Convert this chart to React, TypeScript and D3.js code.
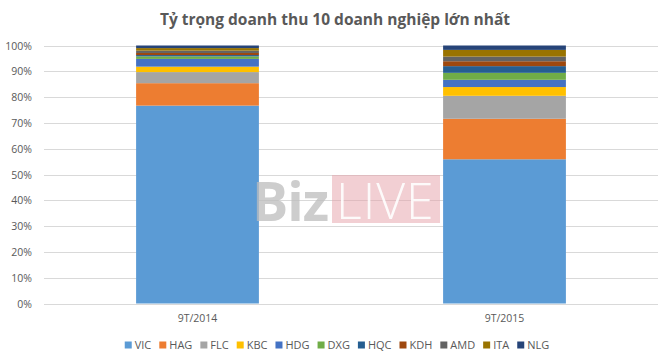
import React from "react";
import * as d3 from "d3";

const categories = ["9T/2014", "9T/2015"];
const seriesNames = ["VIC", "HAG", "FLC", "KBC", "HDG", "DXG", "HQC", "KDH", "AMD", "ITA", "NLG"];
const seriesColors = ["#5B9BD5", "#ED7D31", "#A5A5A5", "#FFC000", "#4472C4", "#70AD47", "#255E91", "#9E480E", "#636363", "#997300", "#264478"];
const values2014 = [76.7, 8.7, 4.3, 2.1, 3.0, 1.0, 0.5, 0.8, 0.9, 1.0, 1.0];
const values2015 = [55.9, 15.7, 8.9, 3.4, 2.8, 2.7, 2.6, 1.9, 1.8, 2.6, 1.7];
const yTicks = [0, 0.1, 0.2, 0.3, 0.4, 0.5, 0.6, 0.7, 0.8, 0.9, 1.0];
const title = "Tỷ trọng doanh thu 10 doanh nghiệp lớn nhất";

const W = 670, H = 363;
const FONT = "'Open Sans', 'Noto Sans', sans-serif";

function measure(text: string, font: string) {
  const c = document.createElement("canvas").getContext("2d")!;
  c.font = font;
  return c.measureText(text).width;
}

export default function App() {
  const rows = categories.map((c, i) => {
    const vals = i === 0 ? values2014 : values2015;
    const total = d3.sum(vals);
    const o: any = { cat: c };
    seriesNames.forEach((s, j) => (o[s] = vals[j] / total));
    return o;
  });
  const stack = d3.stack().keys(seriesNames)(rows);

  const x = d3.scaleBand().domain(categories).range([44, 658]).paddingInner(0.6).paddingOuter(0.3);
  const y = d3.scaleLinear().domain([0, 1]).range([303.5, 45.5]);
  const fmt = d3.format(".0%");

  const legendFont = `11px ${FONT}`;
  const items = seriesNames.map((s) => ({ s, w: 7 + 3 + measure(s, legendFont) }));
  const gap = 8;
  const totalW = d3.sum(items, (d) => d.w) + gap * (items.length - 1);
  let lx = 337 - totalW / 2;
  const legendPos = items.map((d) => {
    const p = lx;
    lx += d.w + gap;
    return p;
  });

  return (
    <svg width={W} height={H} style={{ position: "absolute", left: 0, top: 0, background: "#fff" }}>
      <rect width={W} height={H} fill="#fff" />
      <text x={335} y={25} textAnchor="middle" fontFamily={FONT} fontWeight="bold" fontSize={15.5} fill="#595959">
        {title}
      </text>
      {yTicks.map((t) => (
        <g key={t}>
          <line x1={44} x2={658} y1={Math.round(y(t)) + 0.5} y2={Math.round(y(t)) + 0.5} stroke="#d9d9d9" strokeWidth={1} />
          <text x={32} y={y(t) + 4} textAnchor="end" fontFamily={FONT} fontSize={10.5} fill="#595959">
            {fmt(t)}
          </text>
        </g>
      ))}
      {stack.map((layer, i) => (
        <g key={layer.key} fill={seriesColors[i]}>
          {layer.map((d: any) => (
            <rect
              key={d.data.cat}
              x={x(d.data.cat)}
              width={x.bandwidth()}
              y={y(d[1])}
              height={y(d[0]) - y(d[1])}
            />
          ))}
        </g>
      ))}
      {categories.map((c) => (
        <text key={c} x={(x(c) as number) + x.bandwidth() / 2} y={322} textAnchor="middle" fontFamily={FONT} fontSize={10.5} fill="#595959">
          {c}
        </text>
      ))}
      {/* watermark */}
      <g>
        <text x={328} y={221} textAnchor="end" fontFamily="'Open Sans', sans-serif" fontWeight="bold" fontSize={54} fill="#bdbdbd" opacity={0.75} letterSpacing={-1}>
          Biz
        </text>
        <rect x={332} y={175} width={108} height={48} fill="#e6a0a8" opacity={0.5} />
        <text x={336} y={219} fontFamily="'Open Sans', sans-serif" fontWeight={300} fontSize={50} fill="#fff" opacity={0.9} letterSpacing={1}>
          LIVE
        </text>
      </g>
      {items.map((d, i) => (
        <g key={d.s} transform={`translate(${legendPos[i]},0)`}>
          <rect x={0} y={341.5} width={7} height={7} fill={seriesColors[i]} />
          <text x={10} y={349} fontFamily={FONT} fontSize={11} fill="#595959">
            {d.s}
          </text>
        </g>
      ))}
    </svg>
  );
}
